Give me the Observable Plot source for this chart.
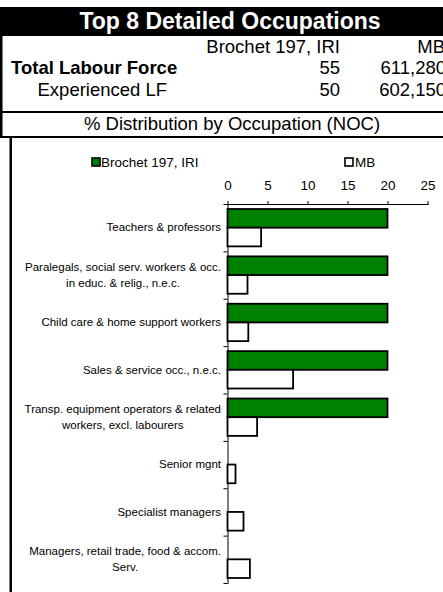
<!DOCTYPE html>
<html>
<head>
<meta charset="utf-8">
<script src="https://cdn.jsdelivr.net/npm/d3@7"></script>
<script src="https://cdn.jsdelivr.net/npm/@observablehq/plot@0.6"></script>
<style>
  html, body { margin: 0; padding: 0; background: #fff; }
  #wrap { position: relative; width: 443px; height: 592px; overflow: hidden; background: #fff;
          font-family: Arial, "Liberation Sans", sans-serif; }
  #chart { position: absolute; left: 0; top: 138px; }
  #overlay { position: absolute; left: 0; top: 0; pointer-events: none; }
</style>
</head>
<body>
<div id="wrap">
  <div id="chart"></div>
  <svg id="overlay" width="443" height="592" xmlns="http://www.w3.org/2000/svg"
       font-family="Arial, 'Liberation Sans', sans-serif">
    <rect x="0" y="7" width="443" height="29" fill="#000"></rect>
    <text id="title" x="230" y="29" text-anchor="middle" font-weight="bold" font-size="23" fill="#fff"></text>
    <rect x="0" y="36" width="2.5" height="101" fill="#000"></rect>
    <g id="table" font-size="18.5" fill="#000"></g>
    <rect x="0" y="111" width="443" height="2" fill="#000"></rect>
    <text id="subtitle" x="232" y="130" text-anchor="middle" font-size="18.5"></text>
    <rect x="0" y="136" width="443" height="2" fill="#000"></rect>
    <rect x="9.5" y="137" width="2.5" height="455" fill="#000"></rect>
    <g id="legend" font-size="13.5"></g>
  </svg>
</div>
<script>
// ---------- data ----------
const titleText = "Top 8 Detailed Occupations";
const subtitleText = "% Distribution by Occupation (NOC)";
const seriesNames = ["Brochet 197, IRI", "MB"];
const seriesColors = ["#008000", "#ffffff"];
const tableRows = ["Total Labour Force", "Experienced LF"];
const tableBrochet = ["55", "50"];
const tableMB = ["611,280", "602,150"];

const categories = [
  "Teachers & professors",
  "Paralegals, social serv. workers & occ.\nin educ. & relig., n.e.c.",
  "Child care & home support workers",
  "Sales & service occ., n.e.c.",
  "Transp. equipment operators & related\nworkers, excl. labourers",
  "Senior mgnt",
  "Specialist managers",
  "Managers, retail trade, food & accom.\nServ."
];
const brochetValues = [20, 20, 20, 20, 20, 0, 0, 0];
const mbValues = [4.2, 2.5, 2.6, 8.2, 3.7, 1.0, 2.0, 2.8];
const xTicks = [0, 5, 10, 15, 20, 25];

// ---------- header ----------
const NS = "http://www.w3.org/2000/svg";
function svgEl(parent, tag, attrs, text) {
  const e = document.createElementNS(NS, tag);
  for (const k in attrs) e.setAttribute(k, attrs[k]);
  if (text != null) e.textContent = text;
  parent.appendChild(e);
  return e;
}
document.getElementById("title").textContent = titleText;
document.getElementById("subtitle").textContent = subtitleText;
const table = document.getElementById("table");
svgEl(table, "text", {x: 340, y: 53, "text-anchor": "end"}, seriesNames[0]);
svgEl(table, "text", {x: 445, y: 53, "text-anchor": "end"}, seriesNames[1]);
tableRows.forEach((r, k) => {
  const y = 74 + k * 21.5;
  svgEl(table, "text", k === 0 ? {x: 11, y, "font-weight": "bold"} : {x: 37.5, y}, r);
  svgEl(table, "text", {x: 340, y, "text-anchor": "end"}, tableBrochet[k]);
  svgEl(table, "text", {x: 446, y, "text-anchor": "end"}, tableMB[k]);
});
const legend = document.getElementById("legend");
[[92, 101], [345, 355]].forEach(([sx, tx], k) => {
  svgEl(legend, "rect", {x: sx, y: 158, width: 8, height: 8, fill: seriesColors[k], stroke: "#000", "stroke-width": 1.6});
  svgEl(legend, "text", {x: tx, y: 167}, seriesNames[k]);
});

// ---------- chart ----------
const W = 443, H = 454, mt = 66, mbm = 9, ml = 227.5, mr = 15.5;
const band = (H - mt - mbm) / categories.length;
const rows = categories.map((c, i) => ({i, cat: c, b: brochetValues[i], m: mbValues[i]}));

const canvas = document.createElement("canvas");
const ctx = canvas.getContext("2d");
const labelFont = 11.5;
ctx.font = `${labelFont}px Arial, "Liberation Sans", sans-serif`;
const lineH = 15.5;
const labelMarks = [];
rows.forEach(r => {
  const lines = r.cat.split("\n");
  const n = lines.length;
  const wmax = Math.max(...lines.map(l => ctx.measureText(l).width));
  lines.forEach((l, k) => {
    const single = n === 1;
    labelMarks.push(Plot.text([r], {
      x: () => 0,
      y: d => d.i + 0.5,
      text: () => l,
      textAnchor: single ? "end" : "middle",
      dx: single ? -7 : -7 - wmax / 2,
      dy: (k - (n - 1) / 2) * lineH - 0.5,
      fontSize: labelFont,
      fill: "#000"
    }));
  });
});

const chart = Plot.plot({
  width: W, height: H,
  marginTop: mt, marginBottom: mbm, marginLeft: ml, marginRight: mr,
  style: {fontFamily: 'Arial, "Liberation Sans", sans-serif', fontSize: "13.5px", background: "transparent", color: "#000", overflow: "visible"},
  x: {domain: [0, 25], axis: "top", ticks: xTicks, tickSize: 4, tickPadding: 11, line: true, label: null},
  y: {domain: [0, categories.length], reverse: true, axis: "left", ticks: d3.range(categories.length + 1), tickSize: 4, tickFormat: () => "", line: true, label: null},
  marks: [
    Plot.rectX(rows.filter(d => d.b > 0), {x1: () => 0, x2: "b", y1: "i", y2: d => d.i + 1,
      insetTop: 5, insetBottom: band / 2, fill: seriesColors[0], stroke: "#000", strokeWidth: 1.8}),
    Plot.rectX(rows.filter(d => d.m > 0), {x1: () => 0, x2: "m", y1: "i", y2: d => d.i + 1,
      insetTop: band / 2, insetBottom: 5, fill: seriesColors[1], stroke: "#000", strokeWidth: 1.8}),
    ...labelMarks
  ]
});
document.getElementById("chart").appendChild(chart);
</script>
</body>
</html>
